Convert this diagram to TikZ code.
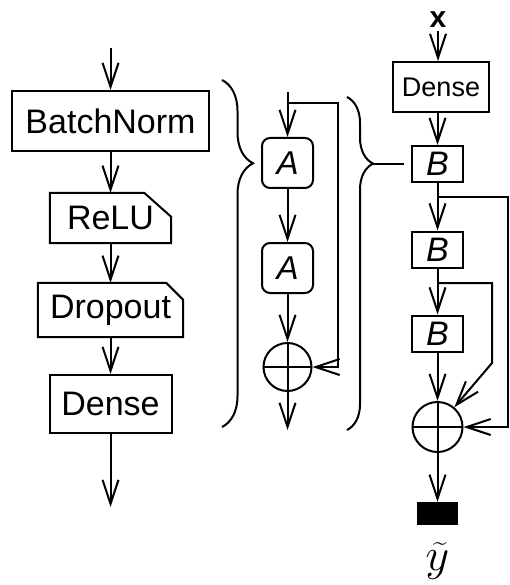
\documentclass[tikz,border=0pt]{standalone}
\usepackage{fix-cm}
\usepackage{fontspec}
\setmainfont{Liberation Sans}
\usepackage{amsmath}
\usetikzlibrary{arrows.meta, positioning, decorations.pathreplacing, calc}
\tikzset{
  layer/.style={draw, line width=2pt, inner sep=0pt, font=\fontsize{34}{38}\selectfont},
  actbox/.style={inner sep=0pt, font=\fontsize{34}{38}\selectfont},
  blockA/.style={draw, rounded corners=8pt, line width=2pt, minimum width=51pt, minimum height=50pt, inner sep=0pt, font=\fontsize{33}{36}\selectfont\itshape},
  blockB/.style={draw, line width=2pt, minimum width=51pt, minimum height=36pt, inner sep=0pt, font=\fontsize{34}{36}\selectfont\itshape},
  addop/.style={draw, circle, line width=2pt, minimum size=48pt, inner sep=0pt,
    path picture={\draw[line width=2pt] (path picture bounding box.north) -- (path picture bounding box.south)
      (path picture bounding box.west) -- (path picture bounding box.east);}},
  flow/.style={-{Straight Barb[length=24pt, width=16pt]}, line width=2pt},
  curly/.style={decorate, line width=2pt},
}

\begin{document}
\begin{tikzpicture}[x=1pt, y=-1pt]
  \useasboundingbox (0,0) rectangle (510,585);
  % dense block
  \coordinate (lin) at (110.5,48);
  \node[layer, minimum width=197pt, minimum height=60pt] (bn) at (110.5,121) {BatchNorm};
  \node[actbox, minimum width=121pt, minimum height=50pt] (relu) at (110.5,218) {ReLU\hspace{12pt}};
  \node[actbox, minimum width=145pt, minimum height=54pt] (drop) at (110.5,310) {Dropout\hspace{6pt}};
  \node[layer, minimum width=122pt, minimum height=58pt] (dense1) at (110.5,404) {Dense};
  \coordinate (lout) at (110.5,507);
  \draw[line width=2pt] (relu.south west) -- (relu.north west) -- ([xshift=-27pt]relu.north east)
    -- ([yshift=-24pt]relu.north east) -- (relu.south east) -- cycle;
  \draw[line width=2pt] (drop.south west) -- (drop.north west) -- ([xshift=-17pt]drop.north east)
    -- ([yshift=-17pt]drop.north east) -- (drop.south east) -- cycle;
  \draw[flow] (lin) -- (bn);
  \draw[flow] (bn) -- (relu);
  \draw[flow] (relu) -- (drop);
  \draw[flow] (drop) -- (dense1);
  \draw[flow] (dense1) -- (lout);
  \draw[curly, decoration={brace, amplitude=31pt, aspect=0.24}] (222,80) -- (222,427);
  % residual block A
  \coordinate (min) at (287.5,92);
  \coordinate (skipa) at (287.5,103);
  \node[blockA] (a1) at (287.5,163) {A};
  \node[blockA] (a2) at (287.5,268) {A};
  \node[addop] (add1) at (287.5,367) {};
  \coordinate (mout) at (287.5,430);
  \draw[flow] (min) -- (a1);
  \draw[flow] (a1) -- (a2);
  \draw[flow] (a2) -- (add1);
  \draw[flow] (add1) -- (mout);
  \draw[flow] (skipa) -- (338,103) |- (add1);
  \draw[curly, decoration={brace, amplitude=26pt, aspect=0.2}] (347,97) -- (347,430);
  % full network
  \node[font=\fontsize{30}{32}\selectfont\bfseries] (x) at (438,20) {x};
  \node[layer, minimum width=96pt, minimum height=50pt, font=\fontsize{27}{30}\selectfont] (dense2) at (441,87) {Dense};
  \node[blockB] (b1) at (437.5,164) {B};
  \node[blockB] (b2) at (437.5,249.5) {B};
  \node[blockB] (b3) at (437.5,333.5) {B};
  \node[addop, minimum size=50pt] (add2) at (437.5,427) {};
  \node[fill, minimum width=41pt, minimum height=23pt, inner sep=0pt] (out) at (437.5,513.5) {};
  \node[font=\fontsize{46}{50}\selectfont] (yhat) at (437.5,561) {$\widetilde{y}$};
  \coordinate (tipb) at (373,164);
  \coordinate (skipb1) at (437.5,197);
  \coordinate (skipb2) at (437.5,283);
  \draw[line width=2pt] (tipb) -- ([xshift=-7pt]b1.west);
  \draw[flow] (x) -- (x |- dense2.north);
  \draw[flow] (dense2.south -| b1) -- (b1);
  \draw[flow] (b1) -- (b2);
  \draw[flow] (b2) -- (b3);
  \draw[flow] (b3) -- (add2);
  \draw[flow] (add2) -- (out);
  \draw[flow] (skipb1) -- (508,197) |- (add2);
  \draw[flow] (skipb2) -- (492,283) -- (492,363) -- (add2);
\end{tikzpicture}
\end{document}
